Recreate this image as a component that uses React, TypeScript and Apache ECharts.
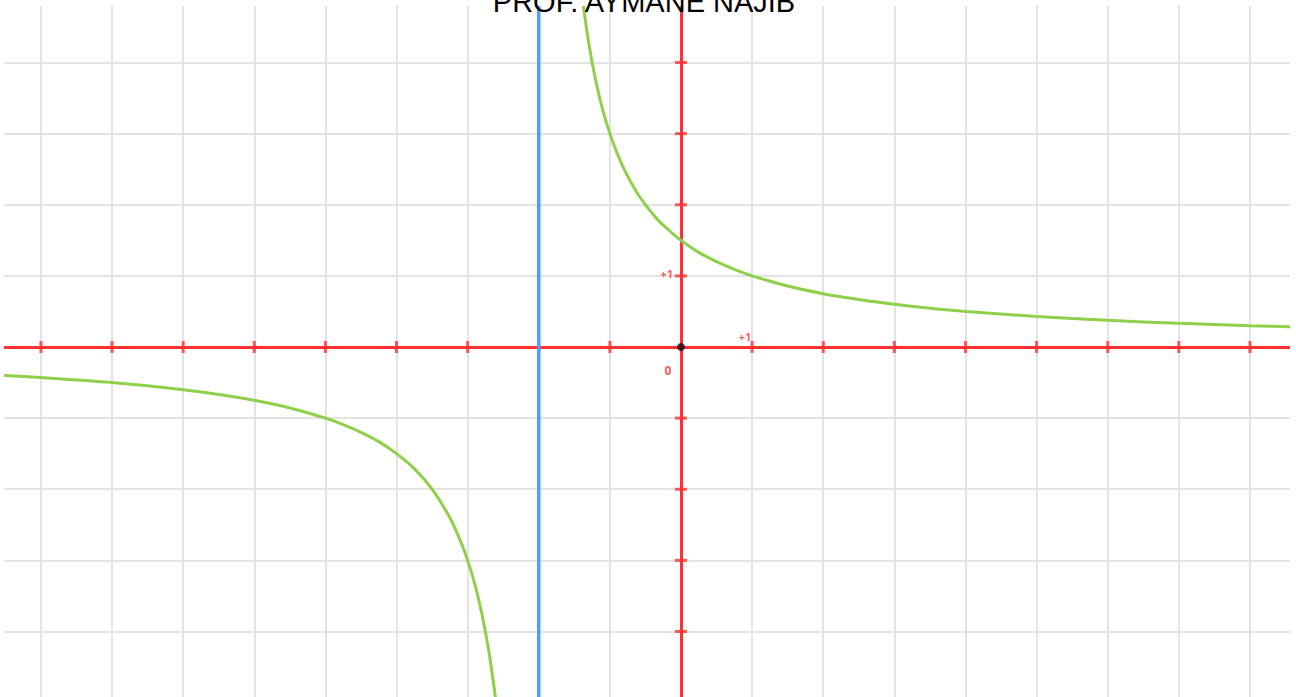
import React, { useEffect, useRef } from "react";
import * as echarts from "echarts";

const titleText = "PROF. AYMANE NAJIB";

// right branch of the curve (x, y)
const rightX = [-1.4, -1.3, -1.2, -1.1, -1.0, -0.9, -0.8, -0.7, -0.6, -0.5, -0.4, -0.3, -0.2, -0.1, 0, 0.25, 0.5, 0.75, 1, 1.5, 2, 2.5, 3, 3.5, 4, 5, 6, 7, 8, 8.7];
const rightY = [5.0, 4.29, 3.75, 3.33, 3.0, 2.73, 2.5, 2.31, 2.14, 2.0, 1.875, 1.76, 1.67, 1.58, 1.5, 1.33, 1.2, 1.09, 1.0, 0.857, 0.75, 0.667, 0.6, 0.545, 0.5, 0.43, 0.375, 0.333, 0.3, 0.281];

// left branch of the curve
const leftX = [-9.7, -9, -8, -7, -6.5, -6, -5.5, -5, -4.75, -4.5, -4.25, -4, -3.75, -3.5, -3.25, -3.1, -3.0, -2.9, -2.8, -2.7, -2.6];
const leftY = [-0.39, -0.43, -0.5, -0.6, -0.667, -0.75, -0.857, -1.0, -1.09, -1.2, -1.33, -1.5, -1.71, -2.0, -2.4, -2.73, -3.0, -3.33, -3.75, -4.29, -5.0];

// vertical asymptote
const asymptoteX = -2;

// tick marks on the axes
const xTicks = [-9, -8, -7, -6, -5, -4, -3, -2, -1, 1, 2, 3, 4, 5, 6, 7, 8];
const yTicks = [-4, -3, -2, -1, 1, 2, 3, 4];

const X_MIN = -10;
const X_MAX = 9;
const Y_MIN = -5;
const Y_MAX = 5;

const W = 1296;
const H = 697;
const PAD = 40;
const CW = W + 2 * PAD;
const CH = H + 2 * PAD;
const UNIT = 71.12;
const OX = 681;
const OY = 347;

export default function App() {
  const ref = useRef<HTMLDivElement>(null);
  useEffect(() => {
    if (!ref.current) return;
    const chart = echarts.init(ref.current, null, { renderer: "svg" });
    const red = "#ff3030";
    const green = "#8fd04a";
    const gridLeft = PAD + OX + X_MIN * UNIT;
    const gridRight = CW - (PAD + OX + X_MAX * UNIT);
    const gridTop = PAD + OY - Y_MAX * UNIT;
    const gridBottom = CH - (PAD + OY - Y_MIN * UNIT);
    chart.setOption({
      animation: false,
      backgroundColor: "#ffffff",
      grid: { left: gridLeft, right: gridRight, top: gridTop, bottom: gridBottom, containLabel: false },
      xAxis: {
        type: "value",
        min: X_MIN,
        max: X_MAX,
        interval: 1,
        axisLine: { onZero: true, lineStyle: { color: red, width: 3 } },
        axisTick: { show: false },
        axisLabel: { show: false },
        splitLine: { show: true, lineStyle: { color: "#e3e3e3", width: 2 } },
        z: 3,
      },
      yAxis: {
        type: "value",
        min: Y_MIN,
        max: Y_MAX,
        interval: 1,
        axisLine: { onZero: true, lineStyle: { color: red, width: 3 } },
        axisTick: { show: false },
        axisLabel: { show: false },
        splitLine: { show: true, lineStyle: { color: "#e3e3e3", width: 2 } },
        z: 3,
      },
      series: [
        {
          type: "scatter",
          data: xTicks.map((v) => [v, 0]),
          symbol: "rect",
          symbolSize: [3, 12],
          itemStyle: { color: red },
          silent: true,
          z: 4,
        },
        {
          type: "scatter",
          data: yTicks.map((v) => [0, v]),
          symbol: "rect",
          symbolSize: [12, 3],
          itemStyle: { color: red },
          silent: true,
          z: 4,
        },
        {
          type: "line",
          data: [[asymptoteX, Y_MIN], [asymptoteX, Y_MAX]],
          symbol: "none",
          lineStyle: { color: "#4a9fff", width: 3.5 },
          z: 4.5,
        },
        {
          type: "line",
          data: rightX.map((x, i) => [x, rightY[i]]),
          symbol: "none",
          smooth: 0.3,
          lineStyle: { color: green, width: 3 },
          z: 5,
        },
        {
          type: "line",
          data: leftX.map((x, i) => [x, leftY[i]]),
          symbol: "none",
          smooth: 0.3,
          lineStyle: { color: green, width: 3 },
          z: 5,
        },
        {
          type: "scatter",
          data: [[0, 0]],
          symbolSize: 8,
          itemStyle: { color: "#111" },
          z: 6,
          label: {
            show: true,
            formatter: "0",
            position: "inside",
            offset: [-13, 23],
            color: red,
            fontSize: 12,
            fontWeight: "bold",
            fontFamily: "Open Sans",
          },
        },
        {
          type: "scatter",
          data: [[0, 1]],
          symbolSize: 0,
          z: 6,
          label: {
            show: true,
            formatter: "+1",
            position: "left",
            distance: 8,
            offset: [0, -2],
            color: red,
            fontSize: 11,
            fontWeight: "bold",
            fontFamily: "Open Sans",
          },
        },
        {
          type: "scatter",
          data: [[1, 0]],
          symbolSize: 0,
          z: 6,
          label: {
            show: true,
            formatter: "+1",
            position: "top",
            distance: 5,
            offset: [-7, 0],
            color: red,
            fontSize: 11,
            fontWeight: "bold",
            fontFamily: "Open Sans",
          },
        },
      ],
      graphic: [
        { type: "rect", shape: { x: 0, y: 0, width: PAD + 4, height: CH }, style: { fill: "#fff" }, z: 100 },
        { type: "rect", shape: { x: 0, y: 0, width: CW, height: PAD + 6 }, style: { fill: "#fff" }, z: 100 },
        { type: "rect", shape: { x: PAD + 1290, y: 0, width: CW - PAD - 1290, height: CH }, style: { fill: "#fff" }, z: 100 },
        {
          type: "text",
          x: PAD + 644,
          y: PAD + 2,
          z: 110,
          style: {
            text: titleText,
            fill: "#000",
            font: "29px 'Liberation Sans', Arial, sans-serif",
            align: "center",
            verticalAlign: "middle",
          },
        },
      ],
    });
    return () => chart.dispose();
  }, []);
  return (
    <div style={{ position: "absolute", left: 0, top: 0, width: W, height: H, overflow: "hidden", background: "#fff" }}>
      <div
        ref={ref}
        style={{ position: "absolute", left: -PAD, top: -PAD, width: CW, height: CH }}
      />
    </div>
  );
}
